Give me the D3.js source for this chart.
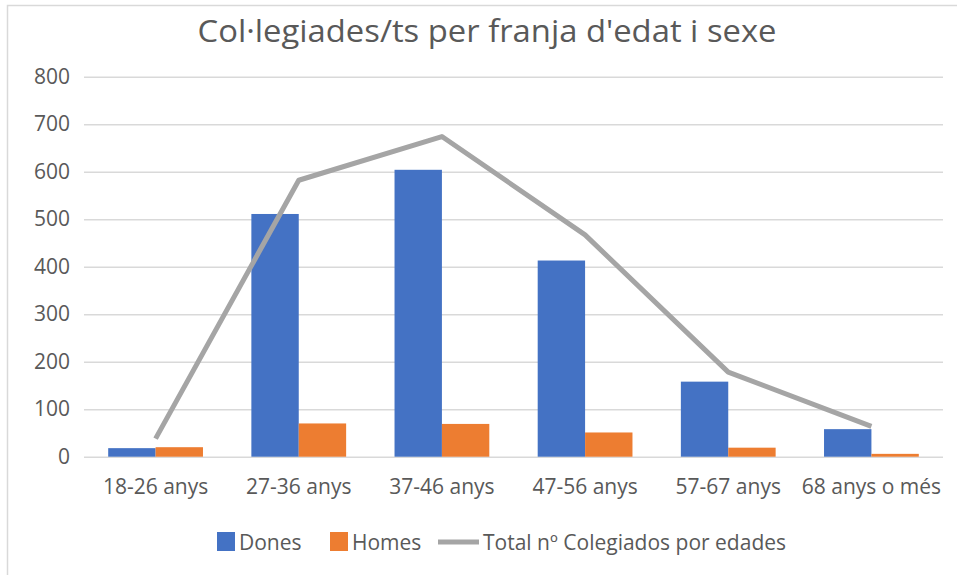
<!DOCTYPE html>
<html>
<head>
<meta charset="utf-8">
<script src="https://cdn.jsdelivr.net/npm/d3@7"></script>
<style>
  body { margin: 0; background: #fff; }
  text { font-family: "Open Sans", "DejaVu Sans", sans-serif; fill: #595959; }
</style>
</head>
<body>
<div id="chart"></div>
<script>
// data
const categories = ["18-26 anys", "27-36 anys", "37-46 anys", "47-56 anys", "57-67 anys", "68 anys o més"];
const dones = [18, 511, 604, 413, 158, 58];
const homes = [20, 70, 69, 51, 19, 6];
const total = [38, 582, 674, 467, 178, 64];
const yTicks = [0, 100, 200, 300, 400, 500, 600, 700, 800];
const seriesNames = ["Dones", "Homes", "Total nº Colegiados por edades"];

const colors = { Dones: "#4472C4", Homes: "#ED7D31", Total: "#A5A5A5" };

let dimensions = {
  width: 957,
  height: 575,
  plot: { left: 84, right: 943, top: 76.7, bottom: 456.7 }
};

const svg = d3.select("#chart")
  .append("svg")
  .attr("width", dimensions.width)
  .attr("height", dimensions.height);

// chart frame (only left and top edges show)
svg.append("rect")
  .attr("x", 7.5).attr("y", 5.5)
  .attr("width", 1000).attr("height", 1000)
  .attr("fill", "none")
  .attr("stroke", "#D9D9D9")
  .attr("stroke-width", 1.5);

// title
svg.append("text")
  .attr("x", 487)
  .attr("y", 42)
  .attr("text-anchor", "middle")
  .attr("textLength", 579)
  .attr("lengthAdjust", "spacingAndGlyphs")
  .style("font-size", "31px")
  .text("Col·legiades/ts per franja d'edat i sexe");

// scales
const x = d3.scaleBand()
  .domain(categories)
  .range([dimensions.plot.left, dimensions.plot.right])
  .paddingInner(0.338)
  .paddingOuter(0.169);

const xSub = d3.scaleBand()
  .domain(["Dones", "Homes"])
  .range([0, x.bandwidth()]);

const y = d3.scaleLinear()
  .domain([0, 800])
  .range([dimensions.plot.bottom, dimensions.plot.top]);

// gridlines + y labels
const yAxis = svg.append("g")
  .attr("transform", `translate(${dimensions.plot.left},0)`)
  .call(d3.axisLeft(y).tickValues(yTicks)
    .tickSize(-(dimensions.plot.right - dimensions.plot.left))
    .tickPadding(14));
yAxis.select(".domain").remove();
yAxis.selectAll("line").attr("stroke", "#D9D9D9").attr("stroke-width", 1.5);
yAxis.selectAll("text")
  .attr("fill", "#595959")
  .style("font-size", "21px")
  .style("font-family", "'Open Sans', sans-serif");

// x labels
const xAxis = svg.append("g")
  .attr("transform", `translate(0,${dimensions.plot.bottom})`)
  .call(d3.axisBottom(x).tickSize(0).tickPadding(22));
xAxis.select(".domain").remove();
xAxis.selectAll("text")
  .attr("fill", "#595959")
  .style("font-size", "21px")
  .style("font-family", "'Open Sans', sans-serif");

// bars
const rows = categories.map((c, i) => ({ cat: c, Dones: dones[i], Homes: homes[i] }));

svg.append("g")
  .selectAll("g")
  .data(rows)
  .join("g")
  .attr("transform", d => `translate(${x(d.cat)},0)`)
  .selectAll("rect")
  .data(d => ["Dones", "Homes"].map(k => ({ key: k, value: d[k] })))
  .join("rect")
  .attr("x", d => xSub(d.key))
  .attr("y", d => y(d.value))
  .attr("width", xSub.bandwidth())
  .attr("height", d => y(0) - y(d.value))
  .attr("fill", d => colors[d.key]);

// total line
const line = d3.line()
  .x((d, i) => x(categories[i]) + x.bandwidth() / 2)
  .y(d => y(d));

svg.append("path")
  .datum(total)
  .attr("d", line)
  .attr("fill", "none")
  .attr("stroke", colors.Total)
  .attr("stroke-width", 5)
  .attr("stroke-linejoin", "round");

// legend
const legend = svg.append("g").attr("transform", "translate(0,542)");
const legendItems = [
  { name: seriesNames[0], type: "rect", color: colors.Dones, x: 217 },
  { name: seriesNames[1], type: "rect", color: colors.Homes, x: 330 },
  { name: seriesNames[2], type: "line", color: colors.Total, x: 438 }
];
legendItems.forEach(item => {
  if (item.type === "rect") {
    legend.append("rect")
      .attr("x", item.x).attr("y", -10)
      .attr("width", 18).attr("height", 19)
      .attr("fill", item.color);
    legend.append("text")
      .attr("x", item.x + 22).attr("y", 7.5)
      .style("font-size", "21px")
      .text(item.name);
  } else {
    legend.append("line")
      .attr("x1", item.x).attr("x2", item.x + 41)
      .attr("y1", 0).attr("y2", 0)
      .attr("stroke", item.color)
      .attr("stroke-width", 5);
    legend.append("text")
      .attr("x", item.x + 45).attr("y", 7.5)
      .style("font-size", "21px")
      .text(item.name);
  }
});
</script>
</body>
</html>
